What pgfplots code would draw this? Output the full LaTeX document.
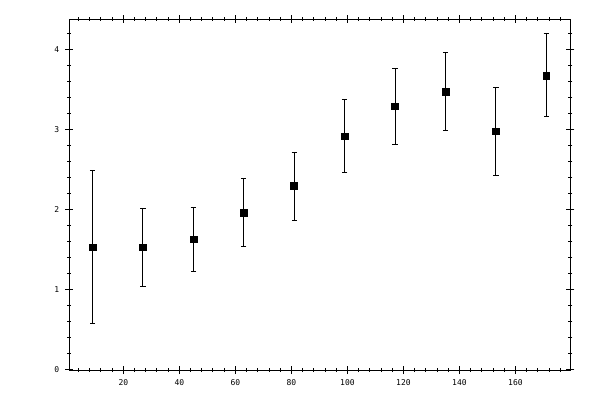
\documentclass[border=0pt]{standalone}
\usepackage{pgfplots}
\pgfplotsset{compat=1.18}
\usepackage{fontspec}
\setmainfont{DejaVu Sans Mono}

\pgfplotstableread{
x   y      err
9   1.525  0.955
27  1.525  0.485
45  1.625  0.400
63  1.960  0.420
81  2.288  0.425
99  2.913  0.455
117 3.288  0.475
135 3.475  0.490
153 2.975  0.550
171 3.675  0.520
}\means

\begin{document}
\begin{tikzpicture}[x=1pt,y=1pt]
\useasboundingbox (0,0) rectangle (450,300);
\begin{axis}[
    at={(52pt,22.5pt)}, anchor=south west,
    scale only axis,
    width=375.75pt, height=263pt,
    xmin=0.7, xmax=179.6,
    ymin=-0.01, ymax=4.375,
    xtick={20,40,...,160},
    ytick={0,1,2,3,4},
    minor xtick={4,8,...,176},
    minor ytick={0.2,0.4,...,4.2},
    tick align=center,
    major tick length=6pt,
    minor tick length=3pt,
    every tick/.style={black, line width=0.75pt},
    axis line style={black, line width=0.75pt},
    ticklabel style={font=\fontsize{6}{7}\selectfont},
    /pgf/number format/assume math mode=true,
    xticklabel style={yshift=-1pt},
    yticklabel style={xshift=-1pt},
    xtick pos=both, ytick pos=both,
    xticklabel pos=lower, yticklabel pos=left,
]
\addplot[
    only marks, mark=square*, mark size=2.6pt,
    mark options={fill=black, draw=black},
    error bars/.cd,
    y dir=both, y explicit,
    error bar style={black, line width=0.75pt},
    error mark options={black, line width=0.75pt, mark size=2pt, rotate=90},
] table[x=x, y=y, y error=err] {\means};
\end{axis}
\end{tikzpicture}
\end{document}
